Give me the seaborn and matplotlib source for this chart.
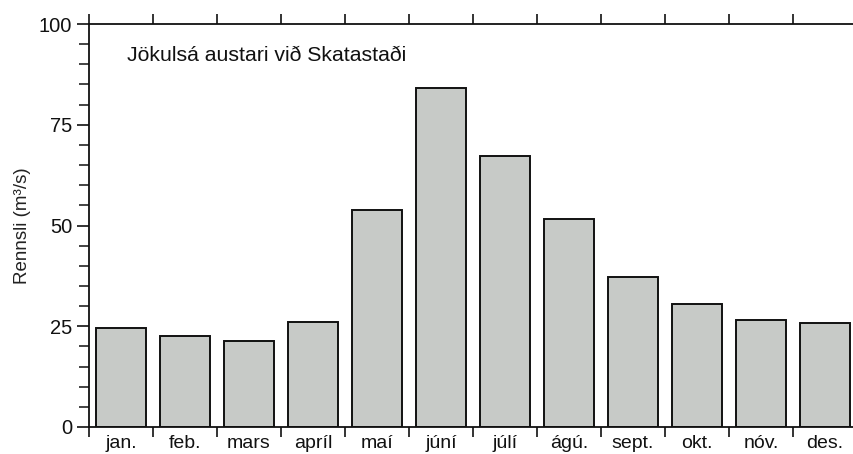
import matplotlib
matplotlib.use('Agg')
import matplotlib.pyplot as plt
import pandas as pd
import seaborn as sns
import numpy as np
from matplotlib.ticker import MultipleLocator, FixedLocator

# Mean monthly discharge
months = ['jan.', 'feb.', 'mars', 'apríl', 'maí', 'júní',
          'júlí', 'ágú.', 'sept.', 'okt.', 'nóv.', 'des.']
flow = [24.6, 22.5, 21.4, 26.1, 53.8, 84.0,
        67.3, 51.6, 37.2, 30.4, 26.6, 25.9]

df = pd.DataFrame({'month': months, 'flow': flow})

sns.set_style('ticks')
plt.rcParams['font.family'] = ['Liberation Sans', 'DejaVu Sans']

fig = plt.figure(figsize=(8.54, 4.54), dpi=100)
ax = fig.add_axes([89 / 854, 27 / 454, 768 / 854, 403 / 454])

sns.barplot(data=df, x='month', y='flow', color='#c7cac7', saturation=1,
            edgecolor='#111111', linewidth=1.4, width=0.77, ax=ax)

ax.set_xlim(-0.5, len(months) - 0.5)
ax.set_ylim(0, 100)
ax.set_xlabel('')
ax.set_ylabel('Rennsli (m³/s)', fontsize=13.5, color='#222222', labelpad=6)

# y ticks: majors every 25, minors every 5
ax.yaxis.set_major_locator(MultipleLocator(25))
ax.yaxis.set_minor_locator(MultipleLocator(5))
ax.tick_params(axis='y', which='major', direction='out', length=9, width=1.2,
               labelsize=14.5, colors='#111111', pad=3)
ax.tick_params(axis='y', which='minor', direction='out', length=7, width=1.1,
               colors='#111111')

# x: labels at centres, ticks at the month boundaries, top and bottom
ax.tick_params(axis='x', which='major', length=0, labelsize=14, pad=6,
               colors='#111111')
ax.xaxis.set_minor_locator(FixedLocator(np.arange(-0.5, len(months), 1.0)))
ax.tick_params(axis='x', which='minor', direction='out', length=7, width=1.2,
               top=True, bottom=True, colors='#111111')

for side in ['left', 'bottom', 'top']:
    ax.spines[side].set_visible(True)
    ax.spines[side].set_linewidth(1.3)
    ax.spines[side].set_color('#111111')
ax.spines['right'].set_visible(False)

ax.text(0.05, 0.945, 'Jökulsá austari við Skatastaði', transform=ax.transAxes,
        fontsize=15.3, color='#111111', va='top', ha='left')

fig.savefig('out.png', dpi=100)
